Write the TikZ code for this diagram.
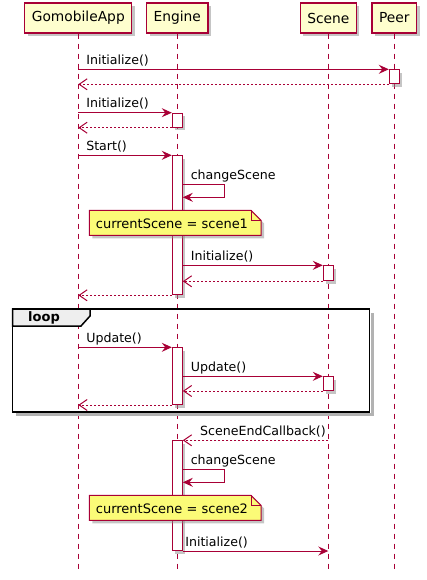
\documentclass[tikz,border=0pt]{standalone}
\usepackage{fontspec}
\setmainfont{DejaVu Sans}
\usetikzlibrary{arrows.meta,shadows}
\definecolor{umlred}{HTML}{A80036}
\definecolor{partfill}{HTML}{FEFECE}
\definecolor{notefill}{HTML}{FBFB77}
\definecolor{tabfill}{HTML}{EEEEEE}
\tikzset{
  shade3/.style={drop shadow={shadow xshift=3pt,shadow yshift=-3pt,fill=black!45,opacity=.5}},
  part/.style={draw=umlred,fill=partfill,line width=1.2pt,minimum height=30pt,inner xsep=7pt,
    font=\fontsize{13.8}{16}\selectfont,shade3},
  life/.style={umlred,line width=.8pt,dash pattern=on 5pt off 5pt},
  act/.style={draw=umlred,fill=white,line width=1pt,minimum width=10pt,inner sep=0pt,anchor=north,shade3},
  msg/.style={umlred,line width=1pt,-{Stealth[length=10pt,width=9pt,inset=3.5pt]}},
  ret/.style={umlred,line width=1pt,dash pattern=on 2pt off 2pt,-{Straight Barb[length=8pt,width=11pt]}},
  lbl/.style={anchor=base west,inner sep=0pt,text=black,font=\fontsize{12.6}{15}\selectfont,xshift=#1,yshift=5pt},
  lbl/.default=7.5pt,
  lblr/.style={anchor=base east,inner sep=0pt,text=black,font=\fontsize{12.6}{15}\selectfont,xshift=-2pt,yshift=5pt},
  note/.style={draw=umlred,fill=notefill,line width=1pt,shade3},
  frame/.style={draw=black,line width=1.5pt},
}
\begin{document}
\begin{tikzpicture}[x=1pt,y=-1pt]
  \useasboundingbox (0,0) rectangle (426,580);
  % participants and lifelines
  \foreach \n/\t/\x in {app/GomobileApp/78.3,eng/Engine/177.3,scn/Scene/328.3,peer/Peer/394.3} {
    \node[part] (\n) at (\x,18) {\t};
    \coordinate (\n end) at (\x,569);
    \draw[life] (\n.south) -- (\n end);
  }
  % loop frame
  \draw[black!30,line width=3pt] (372,313) -- (372,414.5) -- (16,414.5);
  \draw[frame] (12.7,309) rectangle (369.3,412);
  \draw[frame,fill=tabfill] (12.7,309) -- (90,309) -- (90,316) -- (81,326) -- (12.7,326) -- cycle;
  \node[font=\bfseries\fontsize{13}{15}\selectfont,anchor=west,inner sep=0pt] (looplbl) at (28,317.5) {loop};
  % activations
  \foreach \n/\x/\t/\b in {pa/394.3/69.3/83.3,ea1/177.3/112.7/126.7,ea2/177.3/155.3/294.3,
      sa1/328.3/265.3/280.3,ea3/177.3/347.3/404,sa2/328.3/376.3/390,ea4/177.3/440.3/550}
    \node[act,minimum height=\b-\t] (\n) at (\x,\t) {};
  % notes
  \foreach \n/\y/\s in {n1/210.3/scene1,n2/495.3/scene2} {
    \draw[note] (89.3,\y) -- (251,\y) -- (261,\y+10) -- (261,\y+25) -- (89.3,\y+25) -- cycle;
    \draw[umlred,line width=1pt] (251,\y) -- (251,\y+10) -- (261,\y+10);
    \node[anchor=base west,inner sep=0pt,font=\fontsize{13}{15}\selectfont] (\n) at (95.7,\y+18.2) {currentScene = \s};
  }
  \coordinate (cs1a) at (224.3,184.3);
  \coordinate (cs1b) at (224.3,197.3);
  \coordinate (cs2a) at (224.3,469.3);
  \coordinate (cs2b) at (224.3,482.3);
  % messages
  \draw[msg] (app |- pa.north) node[lbl] {Initialize()} -- (pa.north west);
  \draw[ret] (pa.south west) -- (app |- pa.south);
  \draw[msg] (app |- ea1.north) node[lbl] {Initialize()} -- (ea1.north west);
  \draw[ret] (ea1.south west) -- (app |- ea1.south);
  \draw[msg] (app |- ea2.north) node[lbl] {Start()} -- (ea2.north west);
  \draw[msg] (ea2.east |- cs1a) node[lbl] {changeScene} -- (cs1a) -- (cs1b) -- (ea2.east |- cs1b);
  \draw[msg] (ea2.east |- sa1.north) node[lbl] {Initialize()} -- (sa1.north west);
  \draw[ret] (sa1.south west) -- (ea2.east |- sa1.south);
  \draw[ret] (ea2.south west) -- (app |- ea2.south);
  \draw[msg] (app |- ea3.north) node[lbl] {Update()} -- (ea3.north west);
  \draw[msg] (ea3.east |- sa2.north) node[lbl] {Update()} -- (sa2.north west);
  \draw[ret] (sa2.south west) -- (ea3.east |- sa2.south);
  \draw[ret] (ea3.south west) -- (app |- ea3.south);
  \draw[ret] (scn |- ea4.north) node[lblr] {SceneEndCallback()} -- (ea4.north east);
  \draw[msg] (ea4.east |- cs2a) node[lbl] {changeScene} -- (cs2a) -- (cs2b) -- (ea4.east |- cs2b);
  \draw[msg] (ea4.south east) node[lbl=2pt] {Initialize()} -- (scn |- ea4.south);
\end{tikzpicture}
\end{document}
